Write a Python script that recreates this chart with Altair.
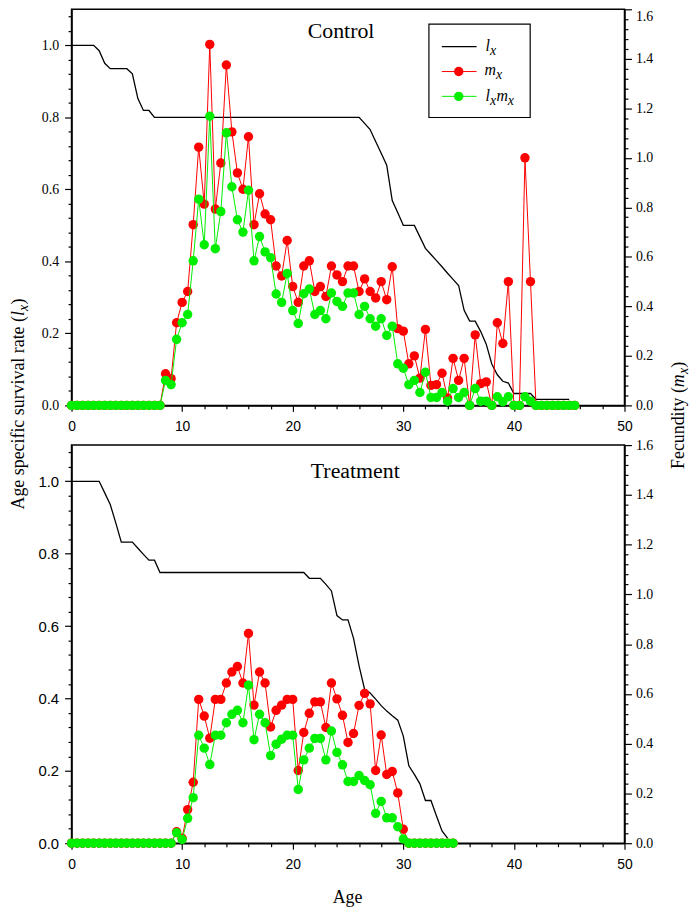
import altair as alt
import pandas as pd

# ---------------- data ----------------
CTRL_AGES = [i * 0.5 for i in range(92)]          # 0 .. 45.5
TRT_AGES = [i * 0.5 for i in range(70)]           # 0 .. 34.5

CTRL_LX = (
    [1.0] * 5
    + [0.985, 0.95, 0.935, 0.935, 0.935, 0.935, 0.921, 0.852, 0.819, 0.819, 0.80]
    + [0.80] * 37
    + [0.783, 0.766, 0.733, 0.70, 0.667, 0.569, 0.535, 0.50, 0.50, 0.50, 0.468,
       0.436, 0.419, 0.402, 0.385, 0.367, 0.35, 0.333, 0.264, 0.234, 0.234,
       0.205, 0.17, 0.115, 0.085, 0.067, 0.062, 0.033, 0.033, 0.033, 0.033]
    + [0.0165] * 7
)
CTRL_MX = (
    [0.0] * 17
    + [0.128, 0.108, 0.334, 0.416, 0.46, 0.73, 1.043, 0.813, 1.458, 0.793,
       0.979, 1.375, 1.105, 0.939, 0.873, 1.085, 0.73, 0.855, 0.773, 0.75,
       0.563, 0.523, 0.666, 0.48, 0.416, 0.563, 0.584, 0.46, 0.48, 0.44,
       0.563, 0.527, 0.50, 0.563, 0.563, 0.46, 0.511, 0.46, 0.434, 0.50,
       0.427, 0.56, 0.31, 0.30, 0.168, 0.20, 0.11, 0.307, 0.081, 0.084,
       0.13, 0.03, 0.19, 0.101, 0.19, 0.0, 0.285, 0.088, 0.095, 0.0,
       0.334, 0.25, 0.50, 0.0, 0.0, 1.0, 0.50]
    + [0.0] * 8
)
CTRL_LXMX = (
    [0.0] * 17
    + [0.101, 0.084, 0.267, 0.334, 0.367, 0.584, 0.833, 0.649, 1.168, 0.633,
       0.783, 1.101, 0.883, 0.75, 0.70, 0.869, 0.584, 0.682, 0.62, 0.597,
       0.45, 0.416, 0.533, 0.383, 0.331, 0.451, 0.47, 0.367, 0.383, 0.35,
       0.454, 0.42, 0.40, 0.454, 0.454, 0.367, 0.40, 0.35, 0.32, 0.35,
       0.283, 0.32, 0.168, 0.15, 0.084, 0.101, 0.052, 0.134, 0.032, 0.032,
       0.052, 0.017, 0.068, 0.032, 0.052, 0.0, 0.068, 0.017, 0.017, 0.0,
       0.035, 0.015, 0.035, 0.0, 0.0, 0.035, 0.017]
    + [0.0] * 8
)

TRT_LX = (
    [1.0] * 6
    + [0.968, 0.936, 0.885, 0.832, 0.832, 0.832, 0.815, 0.798, 0.782, 0.782]
    + [0.748] * 27
    + [0.732, 0.732, 0.732, 0.715, 0.697, 0.629, 0.617, 0.617, 0.566, 0.49,
       0.425, 0.415, 0.398, 0.38, 0.365, 0.352, 0.34, 0.296, 0.214, 0.19,
       0.164, 0.118, 0.118, 0.075, 0.034, 0.014]
)
TRT_MX = (
    [0.0] * 19
    + [0.046, 0.02, 0.135, 0.245, 0.578, 0.511, 0.422, 0.578, 0.578, 0.644,
       0.688, 0.71, 0.644, 0.843, 0.555, 0.688, 0.644, 0.467, 0.534, 0.555,
       0.578, 0.578, 0.292, 0.445, 0.522, 0.568, 0.568, 0.465, 0.644, 0.58,
       0.514, 0.405, 0.441, 0.554, 0.602, 0.56, 0.292, 0.435, 0.276, 0.288,
       0.202, 0.056]
    + [0.0] * 9
)
TRT_LXMX = (
    [0.0] * 19
    + [0.042, 0.015, 0.10, 0.183, 0.434, 0.382, 0.316, 0.434, 0.434, 0.484,
       0.518, 0.534, 0.484, 0.635, 0.416, 0.518, 0.484, 0.352, 0.398, 0.418,
       0.434, 0.434, 0.216, 0.335, 0.382, 0.421, 0.421, 0.335, 0.451, 0.365,
       0.315, 0.248, 0.248, 0.272, 0.252, 0.235, 0.12, 0.168, 0.102, 0.102,
       0.066, 0.017]
    + [0.0] * 9
)

X_TICKS = list(range(0, 51, 2))
LEFT_TICKS = [round(i * 0.04, 2) for i in range(28)]
RIGHT_TICKS = [round(i * 0.04, 2) for i in range(41)]

# ---------------- style ----------------
SERIF = "Liberation Serif"
SANS = "Liberation Sans"
RED = "#ff0000"
GREEN = "#00ee00"
PANEL_W = 557
TOP_H = 399
BOT_H = 401
DOT = 90

MAJ_Y = "abs(datum.value * 5 - round(datum.value * 5)) < 0.001"
MAJ_X = "datum.value % 10 === 0"

DUMMY = pd.DataFrame({"d": [0]})


def common_axis():
    return dict(domainColor="black", domainWidth=1.5, tickColor="black",
                tickWidth=1.2, labelColor="black", grid=False,
                labelOverlap=False, labelFlush=False, title=None)


def x_axis():
    return alt.Axis(orient="bottom", values=X_TICKS,
                    labelExpr=f"{MAJ_X} ? format(datum.value, 'd') : ''",
                    tickSize={"condition": {"test": MAJ_X, "value": 6}, "value": 3.5},
                    labelFont=SANS, labelFontSize=14, labelPadding=8,
                    **common_axis())


def left_axis(font, size):
    return alt.Axis(orient="left", values=LEFT_TICKS,
                    labelExpr=f"{MAJ_Y} ? format(datum.value, '.1f') : ''",
                    tickSize={"condition": {"test": MAJ_Y, "value": 7}, "value": 3.5},
                    labelFont=font, labelFontSize=size, labelPadding=6,
                    **common_axis())


def right_axis(top_label_down):
    extra = {}
    if top_label_down:
        extra["labelBaseline"] = {"condition": {"test": "datum.value > 1.59", "value": "top"},
                                  "value": "middle"}
    return alt.Axis(orient="right", values=RIGHT_TICKS,
                    labelExpr=f"{MAJ_Y} ? format(datum.value, '.1f') : ''",
                    tickSize={"condition": {"test": MAJ_Y, "value": 7}, "value": 3.5},
                    labelFont=SERIF, labelFontSize=14, labelPadding=4,
                    **extra, **common_axis())


def txt(s, x, y, size=18, style="normal", angle=0, align="left",
        baseline="alphabetic", font=SERIF):
    return alt.Chart(DUMMY).mark_text(
        text=s, font=font, fontSize=size, fontStyle=style, angle=angle,
        align=align, baseline=baseline, color="black"
    ).encode(x=alt.value(x), y=alt.value(y))


def panel(ages, lx, mx, lxmx, left_font, left_size, height, extras, top_label_down):
    lx_df = pd.DataFrame({"age": ages[:len(lx)], "lx": lx})
    m_df = pd.DataFrame({"age": ages, "value": mx})
    g_df = pd.DataFrame({"age": ages, "value": lxmx})
    xs = alt.Scale(domain=[0, 50], nice=False, zero=False)
    xenc = alt.X("age:Q", scale=xs, axis=x_axis())
    lx_line = alt.Chart(lx_df).mark_line(color="black", strokeWidth=1.3).encode(
        x=xenc,
        y=alt.Y("lx:Q", scale=alt.Scale(domain=[0, 1.1], nice=False),
                axis=left_axis(left_font, left_size)),
    )
    yr = alt.Y("value:Q", scale=alt.Scale(domain=[0, 1.6], nice=False),
               axis=right_axis(top_label_down))
    red_line = alt.Chart(m_df).mark_line(color=RED, strokeWidth=1).encode(x=xenc, y=yr)
    red_pts = alt.Chart(m_df).mark_circle(color=RED, size=DOT, opacity=1).encode(x=xenc, y=yr)
    grn_line = alt.Chart(g_df).mark_line(color=GREEN, strokeWidth=1).encode(x=xenc, y=yr)
    grn_pts = alt.Chart(g_df).mark_circle(color=GREEN, size=DOT, opacity=1).encode(x=xenc, y=yr)
    fec = alt.layer(red_line, red_pts, grn_line, grn_pts)
    return alt.layer(lx_line, fec, *extras).resolve_scale(y="independent").properties(
        width=PANEL_W, height=height)


# ---- annotations of the top panel (legend, panel label, shared axis titles)
legend_parts = [
    alt.Chart(DUMMY).mark_rect(fill="white", stroke="black", strokeWidth=1.2).encode(
        x=alt.value(360), x2=alt.value(462), y=alt.value(15), y2=alt.value(109)),
    alt.Chart(DUMMY).mark_rule(color="black", strokeWidth=1.3).encode(
        x=alt.value(373), x2=alt.value(408), y=alt.value(37.7)),
    alt.Chart(DUMMY).mark_rule(color=RED, strokeWidth=1).encode(
        x=alt.value(373), x2=alt.value(408), y=alt.value(62.7)),
    alt.Chart(DUMMY).mark_circle(color=RED, size=DOT, opacity=1).encode(
        x=alt.value(390), y=alt.value(62.7)),
    alt.Chart(DUMMY).mark_rule(color=GREEN, strokeWidth=1).encode(
        x=alt.value(373), x2=alt.value(408), y=alt.value(87.7)),
    alt.Chart(DUMMY).mark_circle(color=GREEN, size=DOT, opacity=1).encode(
        x=alt.value(390), y=alt.value(87.7)),
    txt("l", 417, 42, size=16, style="italic"),
    txt("x", 421.5, 46, size=14, style="italic"),
    txt("m", 416, 66, size=16, style="italic"),
    txt("x", 427.5, 70, size=14, style="italic"),
    txt("l", 417, 92, size=16, style="italic"),
    txt("x", 421.5, 96, size=14, style="italic"),
    txt("m", 428, 92, size=16, style="italic"),
    txt("x", 439.5, 96, size=14, style="italic"),
]

J_LEFT = 309
J_RIGHT = 380.6
top_extras = legend_parts + [
    txt("Control", 271.5, 28.5, size=22, align="center"),
    # left shared title
    txt("Age specific survival rate (", -48, J_LEFT, size=18, angle=270, align="right"),
    txt("l", -48, J_LEFT, size=18, style="italic", angle=270),
    txt("x", -44, J_LEFT - 5.2, size=14, style="italic", angle=270),
    txt(")", -48, J_LEFT - 11.6, size=18, angle=270),
    # right shared title
    txt("Fecundity (", 617, J_RIGHT, size=18, angle=270, align="right"),
    txt("m", 617, J_RIGHT, size=18, style="italic", angle=270),
    txt("x", 621, J_RIGHT - 13.2, size=14, style="italic", angle=270),
    txt(")", 617, J_RIGHT - 19.6, size=18, angle=270),
    # invisible left anchor for layout
    alt.Chart(DUMMY).mark_rule(color="white", strokeWidth=1).encode(
        x=alt.value(-62), y=alt.value(0), y2=alt.value(2)),
]

bottom_extras = [
    txt("Treatment", 285.8, 33.3, size=22, align="center"),
    txt("Age", 278, 461, size=18, align="center"),
]

top = panel(CTRL_AGES, CTRL_LX, CTRL_MX, CTRL_LXMX, SERIF, 14, TOP_H, top_extras, True)
bottom = panel(TRT_AGES, TRT_LX, TRT_MX, TRT_LXMX, SANS, 15, BOT_H, bottom_extras, False)

chart = alt.vconcat(top, bottom, spacing=40, bounds="flush").properties(
    padding={"left": 0, "top": -4, "right": 0, "bottom": 0}
).configure_view(stroke="black", strokeWidth=1.5)

chart.save("out.html", embed_options={"renderer": "svg", "actions": False})
